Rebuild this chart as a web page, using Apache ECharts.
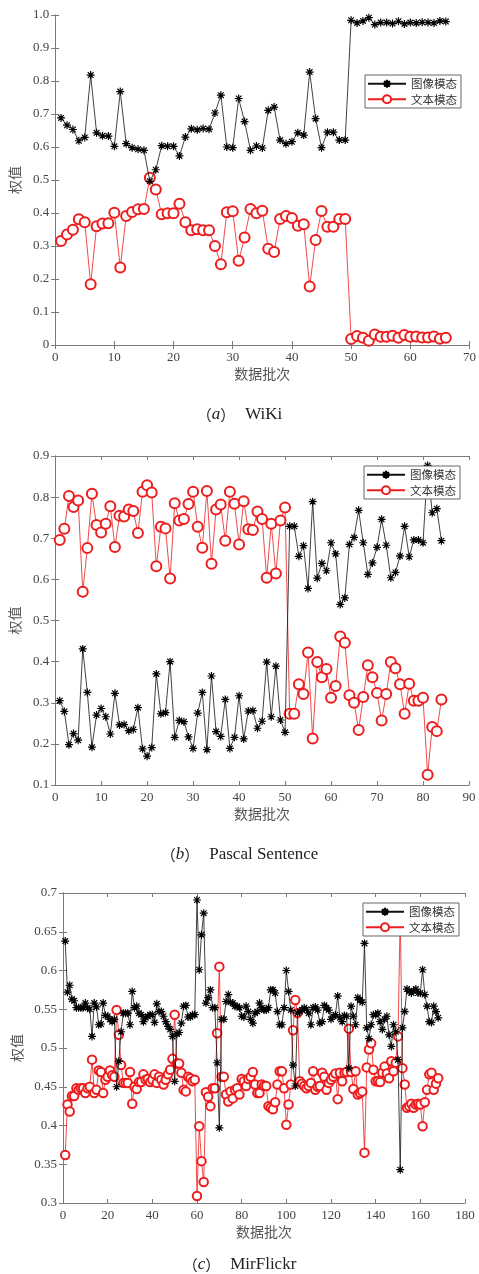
<!DOCTYPE html>
<html>
<head>
<meta charset="utf-8">
<script src="https://cdn.jsdelivr.net/npm/echarts@6/dist/echarts.min.js"></script>
<style>
  html, body { margin: 0; padding: 0; background: #fff; }
  #chart { width: 479px; height: 1274px; }
</style>
</head>
<body>
<div id="chart"></div>
<script>
// (a) WiKi
var wikiImage = [0.688,0.666,0.653,0.619,0.629,0.818,0.643,0.634,0.633,0.602,
  0.768,0.610,0.598,0.593,0.590,0.496,0.531,0.604,0.602,0.602,
  0.573,0.630,0.655,0.652,0.656,0.654,0.703,0.757,0.600,0.598,
  0.747,0.677,0.590,0.603,0.597,0.711,0.721,0.621,0.610,0.616,
  0.643,0.636,0.827,0.686,0.598,0.645,0.645,0.621,0.621,0.984,
  0.976,0.982,0.992,0.971,0.977,0.977,0.974,0.981,0.973,0.977,
  0.976,0.978,0.977,0.976,0.982,0.980];
var wikiText = [0.315,0.335,0.349,0.381,0.372,0.184,0.360,0.368,0.369,0.401,
  0.235,0.391,0.403,0.411,0.412,0.507,0.471,0.396,0.399,0.399,
  0.428,0.372,0.348,0.351,0.348,0.348,0.300,0.245,0.402,0.405,
  0.255,0.326,0.412,0.399,0.407,0.292,0.282,0.382,0.391,0.385,
  0.361,0.366,0.177,0.318,0.406,0.358,0.358,0.382,0.382,0.018,
  0.027,0.022,0.013,0.032,0.025,0.025,0.028,0.022,0.030,0.025,
  0.026,0.023,0.023,0.026,0.019,0.022];

// (b) Pascal Sentence
var pascalImage = [0.305,0.279,0.198,0.225,0.209,0.431,0.325,0.192,0.270,0.286,
  0.266,0.224,0.323,0.246,0.247,0.232,0.235,0.288,0.188,0.170,
  0.191,0.370,0.273,0.276,0.400,0.216,0.257,0.254,0.217,0.189,
  0.275,0.325,0.186,0.365,0.230,0.218,0.308,0.189,0.216,0.317,
  0.212,0.280,0.281,0.238,0.255,0.399,0.266,0.389,0.258,0.228,
  0.729,0.729,0.656,0.682,0.578,0.789,0.603,0.639,0.621,0.689,
  0.662,0.539,0.555,0.685,0.702,0.768,0.689,0.612,0.640,0.678,
  0.746,0.683,0.604,0.617,0.657,0.729,0.655,0.696,0.696,0.689,
  0.877,0.762,0.772,0.694];
var pascalText = [0.696,0.723,0.803,0.776,0.792,0.570,0.676,0.808,0.732,0.714,
  0.735,0.778,0.679,0.755,0.753,0.770,0.766,0.713,0.813,0.829,
  0.811,0.632,0.728,0.724,0.602,0.785,0.743,0.747,0.783,0.813,
  0.728,0.677,0.815,0.638,0.770,0.782,0.694,0.813,0.784,0.685,
  0.790,0.722,0.720,0.765,0.747,0.604,0.735,0.614,0.743,0.775,
  0.273,0.273,0.345,0.321,0.422,0.213,0.399,0.362,0.382,0.312,
  0.341,0.461,0.446,0.318,0.300,0.234,0.314,0.391,0.362,0.324,
  0.257,0.321,0.399,0.384,0.345,0.273,0.346,0.305,0.305,0.312,
  0.125,0.241,0.231,0.308];

// (c) MirFlickr
var mirImage = [0.638,0.572,0.581,0.563,0.561,0.552,0.552,0.552,0.552,0.558,
  0.552,0.550,0.515,0.558,0.553,0.530,0.531,0.558,0.542,0.541,
  0.537,0.534,0.537,0.450,0.483,0.521,0.545,0.545,0.545,0.530,
  0.573,0.552,0.554,0.545,0.543,0.534,0.539,0.541,0.543,0.543,
  0.533,0.557,0.547,0.547,0.541,0.534,0.528,0.524,0.515,0.457,
  0.518,0.520,0.532,0.554,0.555,0.540,0.540,0.543,0.543,0.691,
  0.601,0.646,0.674,0.558,0.565,0.575,0.552,0.552,0.481,0.397,
  0.537,0.537,0.560,0.569,0.559,0.558,0.554,0.554,0.552,0.541,
  0.540,0.554,0.547,0.537,0.532,0.545,0.547,0.558,0.552,0.549,
  0.549,0.552,0.575,0.575,0.571,0.547,0.530,0.530,0.552,0.600,
  0.573,0.549,0.478,0.451,0.545,0.547,0.549,0.552,0.550,0.545,
  0.530,0.552,0.553,0.549,0.532,0.534,0.555,0.552,0.549,0.537,
  0.541,0.543,0.567,0.539,0.534,0.542,0.541,0.474,0.554,0.541,
  0.530,0.565,0.562,0.559,0.635,0.526,0.512,0.530,0.543,0.543,
  0.545,0.534,0.524,0.537,0.541,0.517,0.502,0.530,0.521,0.485,
  0.343,0.526,0.547,0.576,0.573,0.571,0.574,0.576,0.571,0.571,
  0.601,0.569,0.554,0.534,0.533,0.554,0.547,0.539];
var mirText = [0.362,0.427,0.418,0.438,0.438,0.448,0.446,0.448,0.448,0.442,
  0.448,0.450,0.485,0.442,0.446,0.471,0.469,0.442,0.459,0.463,
  0.471,0.465,0.463,0.549,0.517,0.478,0.455,0.455,0.455,0.469,
  0.428,0.450,0.447,0.456,0.456,0.466,0.459,0.460,0.456,0.459,
  0.466,0.455,0.463,0.459,0.453,0.459,0.466,0.472,0.486,0.543,
  0.480,0.480,0.468,0.446,0.444,0.463,0.461,0.457,0.459,0.309,
  0.399,0.354,0.327,0.443,0.437,0.425,0.448,0.448,0.519,0.605,
  0.463,0.463,0.440,0.431,0.444,0.435,0.446,0.448,0.440,0.460,
  0.457,0.451,0.460,0.463,0.469,0.453,0.442,0.442,0.453,0.451,
  0.451,0.425,0.423,0.421,0.430,0.453,0.470,0.470,0.448,0.401,
  0.427,0.453,0.523,0.562,0.545,0.457,0.454,0.451,0.448,0.451,
  0.455,0.470,0.446,0.450,0.451,0.468,0.463,0.446,0.455,0.459,
  0.463,0.467,0.434,0.468,0.457,0.468,0.469,0.525,0.469,0.447,
  0.470,0.440,0.442,0.444,0.365,0.475,0.498,0.506,0.472,0.457,
  0.457,0.456,0.468,0.476,0.467,0.461,0.483,0.470,0.481,0.515,
  0.672,0.474,0.453,0.423,0.425,0.428,0.423,0.427,0.428,0.427,
  0.399,0.430,0.446,0.466,0.468,0.446,0.454,0.461];

var captions = [['a', 'WiKi'], ['b', 'Pascal Sentence'], ['c', 'MirFlickr']];
var xName = '数据批次';
var yName = '权值';
var seriesNames = ['图像模态', '文本模态'];

var serif = 'Liberation Serif';
var cjk = 'Noto Sans CJK SC';
var boxColor = '#7a7a7a';
var starPath = 'path://M0,-5L0,5M-5,0L5,0M-3.54,-3.54L3.54,3.54M-3.54,3.54L3.54,-3.54';

// panel layouts (px)
var panels = [
  { grid: { left: 53, top: 15, width: 419, height: 330 }, x: [0, 70, 10], y: [0, 1, 0.1],
    yFmt: function (v) { return v === 0 ? '0' : v.toFixed(1); }, yGap: 27, legend: [365, 75], cap: 401,
    data: [wikiImage, wikiText], circle: 10 },
  { grid: { left: 52, top: 456, width: 417, height: 329 }, x: [0, 90, 10], y: [0.1, 0.9, 0.1],
    yFmt: function (v) { return v.toFixed(1); }, yGap: 26, legend: [364, 466], cap: 841,
    data: [pascalImage, pascalText], circle: 10 },
  { grid: { left: 63, top: 893, width: 402, height: 310 }, x: [0, 180, 20], y: [0.3, 0.7, 0.05],
    yFmt: function (v) { return String(+v.toFixed(2)); }, yGap: 33, legend: [363, 903], cap: 1251,
    data: [mirImage, mirText], circle: 8.5 }
];

function toXY(arr) {
  return arr.map(function (v, i) { return [i + 1, v]; });
}

var grids = [], xAxes = [], yAxes = [], series = [], legends = [], titles = [];

panels.forEach(function (p, k) {
  grids.push(p.grid);
  var line = { show: true, lineStyle: { color: boxColor, width: 1 } };
  var tick = { show: true, inside: true, length: 4, lineStyle: { color: boxColor } };
  var label = { fontFamily: serif, fontSize: 13, color: '#444', margin: 6 };
  xAxes.push({
    type: 'value', gridIndex: k, position: 'bottom', min: p.x[0], max: p.x[1], interval: p.x[2],
    axisLine: line, axisTick: tick, axisLabel: label, splitLine: { show: false },
    name: xName, nameLocation: 'middle', nameGap: 22,
    nameTextStyle: { fontFamily: cjk, fontSize: 14, color: '#555' }
  });
  xAxes.push({
    type: 'value', gridIndex: k, position: 'top', min: p.x[0], max: p.x[1], interval: p.x[2],
    axisLine: line, axisTick: tick, axisLabel: { show: false }, splitLine: { show: false }
  });
  yAxes.push({
    type: 'value', gridIndex: k, position: 'left', min: p.y[0], max: p.y[1], interval: p.y[2],
    axisLine: line, axisTick: tick,
    axisLabel: Object.assign({ formatter: p.yFmt }, label), splitLine: { show: false },
    name: yName, nameLocation: 'middle', nameGap: p.yGap,
    nameTextStyle: { fontFamily: cjk, fontSize: 14, color: '#555' }
  });
  yAxes.push({
    type: 'value', gridIndex: k, position: 'right', min: p.y[0], max: p.y[1], interval: p.y[2],
    axisLine: line, axisTick: tick, axisLabel: { show: false }, splitLine: { show: false }
  });

  series.push({
    name: seriesNames[0], type: 'line', xAxisIndex: 2 * k, yAxisIndex: 2 * k,
    data: toXY(p.data[0]), symbol: starPath, symbolSize: 8,
    lineStyle: { color: '#111', width: 0.8 },
    itemStyle: { color: '#000', borderColor: '#000', borderWidth: 1.2 },
    z: 3
  });
  series.push({
    name: seriesNames[1], type: 'line', xAxisIndex: 2 * k, yAxisIndex: 2 * k,
    data: toXY(p.data[1]), symbol: 'emptyCircle', symbolSize: p.circle,
    lineStyle: { color: '#ee1c1c', width: 0.8 },
    itemStyle: { color: '#ee1c1c', borderWidth: 1 },
    z: 2
  });

  legends.push({
    left: p.legend[0], top: p.legend[1], orient: 'vertical',
    data: seriesNames, backgroundColor: '#fff', borderColor: '#666', borderWidth: 1,
    padding: [3, 4, 3, 2], itemGap: 4, itemWidth: 38, itemHeight: 10,
    textStyle: { fontFamily: cjk, fontSize: 11.5, color: '#333' }, z: 10
  });

  titles.push({
    text: '{p|（}{i|' + captions[k][0] + '}{p|）}  {t|' + captions[k][1] + '}',
    left: 'center', top: p.cap,
    textStyle: {
      fontWeight: 'normal',
      rich: {
        p: { fontFamily: cjk, fontSize: 15, fontWeight: 'normal', color: '#222' },
        i: { fontFamily: serif, fontStyle: 'italic', fontWeight: 'normal', fontSize: 17, color: '#222' },
        t: { fontFamily: serif, fontWeight: 'normal', fontSize: 17, color: '#222' }
      }
    }
  });
});

var chart = echarts.init(document.getElementById('chart'));
chart.setOption({
  animation: false,
  backgroundColor: '#fff',
  title: titles,
  grid: grids,
  xAxis: xAxes,
  yAxis: yAxes,
  legend: legends,
  tooltip: { show: false },
  series: series
});
</script>
</body>
</html>
